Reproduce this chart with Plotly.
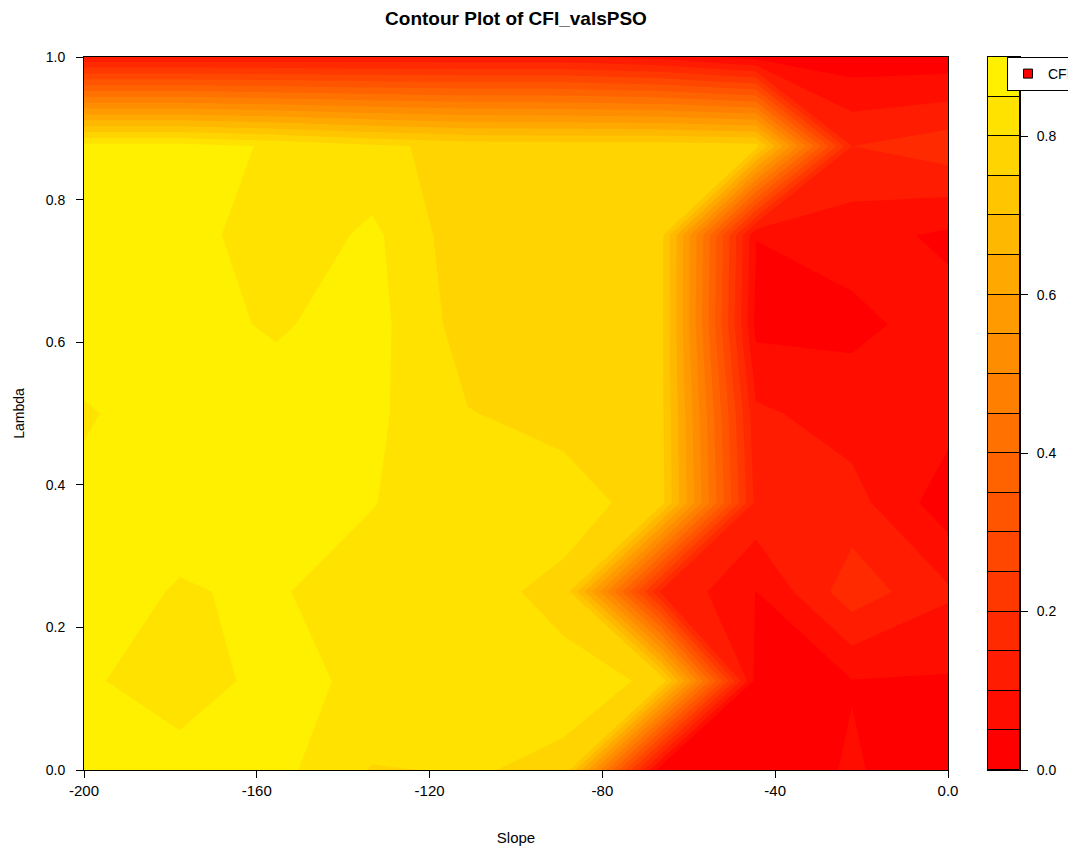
import plotly.graph_objects as go

# Grid of the surface: slope along x, lambda along y
slope = [-200, -177.78, -155.56, -133.33, -111.11, -88.89, -66.67, -44.44, -22.22, 0]
lam = [0.0, 0.125, 0.25, 0.375, 0.5, 0.625, 0.75, 0.875, 1.0]

# CFI values, one row per lambda (bottom to top), one column per slope
cfi = [
    [0.870, 0.858, 0.866, 0.797, 0.803, 0.793, 0.020, 0.020, 0.055, 0.020],
    [0.853, 0.840, 0.857, 0.845, 0.830, 0.812, 0.795, 0.030, 0.048, 0.045],
    [0.861, 0.848, 0.854, 0.829, 0.815, 0.788, 0.150, 0.049, 0.180, 0.108],
    [0.859, 0.860, 0.870, 0.852, 0.820, 0.820, 0.780, 0.136, 0.120, 0.020],
    [0.846, 0.870, 0.870, 0.861, 0.802, 0.785, 0.775, 0.110, 0.075, 0.070],
    [0.873, 0.865, 0.845, 0.869, 0.776, 0.780, 0.775, 0.035, 0.038, 0.070],
    [0.880, 0.881, 0.810, 0.862, 0.765, 0.780, 0.775, 0.051, 0.070, 0.040],
    [0.870, 0.870, 0.844, 0.810, 0.785, 0.780, 0.780, 0.770, 0.150, 0.180],
    [0.110, 0.110, 0.110, 0.110, 0.110, 0.110, 0.085, 0.030, 0.020, 0.020],
]

# Contour levels and key ticks
levels = [0.00, 0.05, 0.10, 0.15, 0.20, 0.25, 0.30, 0.35, 0.40, 0.45,
          0.50, 0.55, 0.60, 0.65, 0.70, 0.75, 0.80, 0.85, 0.90]
x_ticks = [-200, -160, -120, -80, -40, 0]
x_tick_text = ["-200", "-160", "-120", "-80", "-40", "0.0"]
y_ticks = [0.0, 0.2, 0.4, 0.6, 0.8, 1.0]
y_tick_text = ["0.0", "0.2", "0.4", "0.6", "0.8", "1.0"]
key_ticks = [0.0, 0.2, 0.4, 0.6, 0.8]
key_tick_text = ["0.0", "0.2", "0.4", "0.6", "0.8"]

n_bands = len(levels) - 1
step = levels[1] - levels[0]

# red -> yellow palette, one colour per band
band_colors = ["rgb(255,%d,0)" % round(240 * k / (n_bands - 1)) for k in range(n_bands)]

# plotly samples a filled band at its centre; place each band colour there
n_levels = len(levels)
colorscale = [[0.0, band_colors[0]]]
for k, c in enumerate(band_colors):
    colorscale.append([(k + 1) / n_levels, c])
colorscale.append([1.0, band_colors[-1]])

FONT = "Liberation Sans, Arial, sans-serif"

fig = go.Figure()

fig.add_trace(go.Contour(
    x=slope, y=lam, z=cfi,
    autocontour=False,
    contours=dict(start=levels[0], end=levels[-1], size=step,
                  coloring="fill", showlines=False),
    line=dict(width=0, smoothing=0),
    colorscale=colorscale,
    showscale=False,
    showlegend=False,
    hoverinfo="x+y+z",
    xaxis="x", yaxis="y",
))

# colour key drawn as stacked rectangles, one per band
fig.add_trace(go.Bar(
    x=[0] * n_bands,
    y=[levels[k + 1] - levels[k] for k in range(n_bands)],
    base=levels[:-1],
    width=1.0,
    marker=dict(color=band_colors, line=dict(color="black", width=1)),
    showlegend=False,
    hoverinfo="skip",
    xaxis="x2", yaxis="y2",
))

# legend entry
fig.add_trace(go.Scatter(
    x=[None], y=[None], mode="markers",
    marker=dict(symbol="square", size=9, color="red",
                line=dict(color="black", width=1)),
    name="CFI",
    xaxis="x", yaxis="y",
))

axis_common = dict(
    showgrid=False, zeroline=False,
    showline=True, linecolor="black", linewidth=1, mirror=True,
    ticks="outside", ticklen=7, tickcolor="black", tickwidth=1,
)

main_w = 948 - 84
total_w = 1020 - 84

fig.update_layout(
    width=1068, height=851,
    margin=dict(l=84, r=48, t=57, b=81, autoexpand=False),
    paper_bgcolor="white", plot_bgcolor="white",
    font=dict(family=FONT, size=13, color="black"),
    title=dict(text="<b>Contour Plot of CFI_valsPSO</b>",
               font=dict(family=FONT, size=19, color="black"),
               x=(main_w / 2) / total_w, xref="paper", xanchor="center",
               y=1 - 18 / 851, yref="container", yanchor="middle"),
    xaxis=dict(domain=[0, main_w / total_w], range=[-200, 0],
               tickvals=x_ticks, ticktext=x_tick_text,
               tickfont=dict(family=FONT, size=15, color="black"),
               title=dict(text="Slope", standoff=34,
                          font=dict(family=FONT, size=15)),
               **axis_common),
    yaxis=dict(range=[0, 1], tickvals=y_ticks, ticktext=y_tick_text,
               tickfont=dict(family=FONT, size=14, color="black"),
               ticklabelstandoff=8,
               title=dict(text="Lambda", standoff=17,
                          font=dict(family=FONT, size=14)),
               **axis_common),
    xaxis2=dict(domain=[(988 - 84) / total_w, 1], range=[-0.5, 0.5],
                anchor="y2", showticklabels=False, showgrid=False,
                zeroline=False, showline=True, linecolor="black",
                linewidth=1, mirror=True, ticks=""),
    yaxis2=dict(range=[levels[0], levels[-1]], anchor="x2", side="right",
                tickvals=key_ticks, ticktext=key_tick_text,
                tickfont=dict(family=FONT, size=14, color="black"),
                ticklabelstandoff=6,
                **axis_common),
    legend=dict(x=(1007 - 84) / total_w, y=1, xanchor="left", yanchor="top",
                bgcolor="white", bordercolor="black", borderwidth=1,
                font=dict(family=FONT, size=14, color="black")),
    bargap=0,
)

fig.write_html("out.html")
